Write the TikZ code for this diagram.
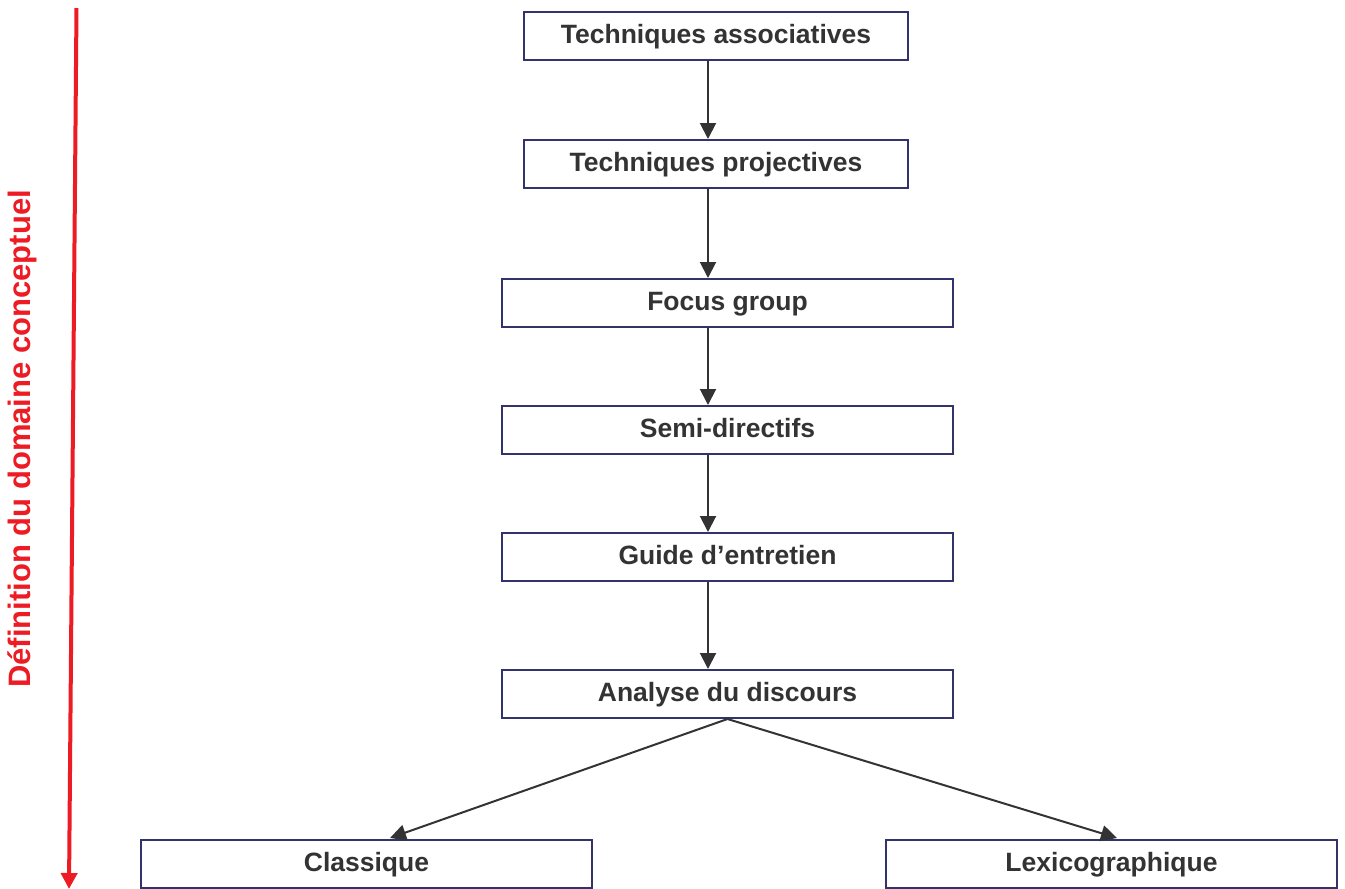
\documentclass[tikz,border=0pt]{standalone}
\usepackage{fontspec}
\setmainfont{Liberation Sans}
\usepackage{xcolor}
\usetikzlibrary{arrows.meta, calc, positioning}

\definecolor{boxline}{HTML}{33336B}
\definecolor{txtgray}{HTML}{333333}
\definecolor{axisred}{HTML}{ED1C24}

\tikzset{
    stagebox/.style = {draw=boxline, line width=2pt, fill=white, inner sep=0pt,
        minimum height=48pt, text=txtgray, text height=19pt, text depth=4pt,
        font=\fontsize{26.5}{30}\selectfont\bfseries},
    narrowbox/.style = {stagebox, minimum width=384pt},
    widebox/.style = {stagebox, minimum width=451pt},
    flow/.style = {draw=txtgray, line width=2pt,
        -{Triangle[width=16pt, length=16pt]}},
}

\begin{document}
\begin{tikzpicture}[x=1pt, y=-1pt]
    \useasboundingbox (0,0) rectangle (1345,889);
    \begin{scope}
        \node[narrowbox] (assoc)   at (716, 36)    {Techniques associatives};
        \node[narrowbox] (proj)    at (716, 164)   {Techniques projectives};
        \node[widebox]   (focus)   at (727.5, 303) {Focus group};
        \node[widebox]   (semi)    at (727.5, 430) {Semi-directifs};
        \node[widebox]   (guide)   at (727.5, 557) {Guide d’entretien};
        \node[widebox]   (analyse) at (727.5, 694) {Analyse du discours};
        \node[widebox]   (classic) at (366.5, 864) {Classique};
        \node[widebox]   (lexico)  at (1111.5, 864) {Lexicographique};
        \coordinate (spine) at (708, 0);
        \coordinate (leftend) at (390, 838);
        \coordinate (rightend) at (1117, 838);
            \draw[flow] (assoc.south -| spine) -- (proj.north -| spine);
            \draw[flow] (proj.south -| spine) -- (focus.north -| spine);
            \draw[flow] (focus.south -| spine) -- (semi.north -| spine);
            \draw[flow] (semi.south -| spine) -- (guide.north -| spine);
            \draw[flow] (guide.south -| spine) -- (analyse.north -| spine);
        \draw[flow] (analyse.south) -- (leftend);
        \draw[flow] (analyse.south) -- (rightend);
    \end{scope}
    % axe conceptuel
    \coordinate (axistop) at (76.5, 8);
    \coordinate (axisbot) at (69, 889);
    \draw[axisred, line width=4pt, -{Triangle[width=16pt, length=16pt]}] (axistop) -- (axisbot);
    \node[rotate=90, text=axisred, font=\fontsize{31}{35}\selectfont\bfseries] (axislabel) at (22, 439)
        {Définition du domaine conceptuel};
\end{tikzpicture}
\end{document}
